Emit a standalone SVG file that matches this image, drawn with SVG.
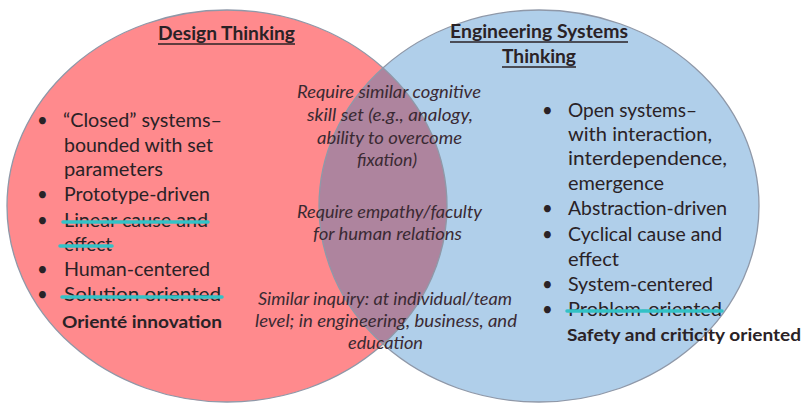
<svg xmlns="http://www.w3.org/2000/svg" width="803" height="403" viewBox="0 0 803 403">
<defs>
<style>
.t{font-family:Lato,"Liberation Sans",sans-serif;font-size:18.5px;fill:#2a2226}
.b{font-family:Lato,"Liberation Sans",sans-serif;font-size:17px;font-weight:bold;fill:#2a2226}
.h{font-family:Lato,"Liberation Sans",sans-serif;font-size:18.5px;font-weight:bold;fill:#2a2226}
.i{font-family:Lato,"Liberation Sans",sans-serif;font-size:17px;font-style:italic;fill:#3a2a33}
.ul{stroke:#2a2226;stroke-width:1.3}
.st{stroke:#33c2c6;stroke-width:3.5;stroke-linecap:round}
.edge{fill:none;stroke:#8f98a8;stroke-width:1.3}
</style>
<clipPath id="blueClip"><ellipse cx="539" cy="206" rx="220" ry="196"/></clipPath>
</defs>
<g id="design-thinking">
<ellipse cx="227" cy="206" rx="220" ry="196" fill="#ff8a8d"/>
</g>
<g id="engineering-systems-thinking">
<ellipse cx="539" cy="206" rx="220" ry="196" fill="#b0cfea"/>
</g>
<g id="overlap">
<ellipse cx="227" cy="206" rx="220" ry="196" fill="#ae849e" clip-path="url(#blueClip)"/>
</g>
<g id="edges">
<ellipse class="edge" cx="227" cy="206" rx="220" ry="196"/>
<ellipse class="edge" cx="539" cy="206" rx="220" ry="196"/>
</g>
<g id="design-thinking-text">
<text class="h" x="158" y="40" textLength="137" lengthAdjust="spacingAndGlyphs">Design Thinking</text>
<line class="ul" x1="158" y1="44" x2="295" y2="44"/>
<text class="t" x="37" y="127">•</text>
<text class="t" x="63" y="127" textLength="159" lengthAdjust="spacingAndGlyphs">“Closed” systems–</text>
<text class="t" x="64" y="152" textLength="149" lengthAdjust="spacingAndGlyphs">bounded with set</text>
<text class="t" x="64" y="176" textLength="99" lengthAdjust="spacingAndGlyphs">parameters</text>
<text class="t" x="37" y="201">•</text>
<text class="t" x="64" y="201" textLength="146" lengthAdjust="spacingAndGlyphs">Prototype-driven</text>
<text class="t" x="37" y="227">•</text>
<text class="t" x="64" y="227" textLength="144" lengthAdjust="spacingAndGlyphs">Linear cause and</text>
<line class="st" x1="63" y1="222" x2="208" y2="222"/>
<text class="t" x="64" y="251" textLength="48" lengthAdjust="spacingAndGlyphs">effect</text>
<line class="st" x1="60" y1="246" x2="112" y2="246"/>
<text class="t" x="37" y="276">•</text>
<text class="t" x="64" y="276" textLength="146" lengthAdjust="spacingAndGlyphs">Human-centered</text>
<text class="t" x="37" y="301">•</text>
<text class="t" x="64" y="301" textLength="157" lengthAdjust="spacingAndGlyphs">Solution oriented</text>
<line class="st" x1="62" y1="297" x2="222" y2="297"/>
<text class="b" x="62" y="328" textLength="160" lengthAdjust="spacingAndGlyphs">Orienté innovation</text>
</g>
<g id="engineering-systems-text">
<text class="h" x="450" y="38" textLength="178" lengthAdjust="spacingAndGlyphs">Engineering Systems</text>
<line class="ul" x1="450" y1="42" x2="628" y2="42"/>
<text class="h" x="502" y="63" textLength="74" lengthAdjust="spacingAndGlyphs">Thinking</text>
<line class="ul" x1="502" y1="67" x2="576" y2="67"/>
<text class="t" x="542" y="117">•</text>
<text class="t" x="568" y="117" textLength="129" lengthAdjust="spacingAndGlyphs">Open systems–</text>
<text class="t" x="568" y="141" textLength="144" lengthAdjust="spacingAndGlyphs">with interaction,</text>
<text class="t" x="568" y="165" textLength="159" lengthAdjust="spacingAndGlyphs">interdependence,</text>
<text class="t" x="568" y="190" textLength="96" lengthAdjust="spacingAndGlyphs">emergence</text>
<text class="t" x="542" y="215">•</text>
<text class="t" x="568" y="215" textLength="159" lengthAdjust="spacingAndGlyphs">Abstraction-driven</text>
<text class="t" x="542" y="241">•</text>
<text class="t" x="568" y="241" textLength="154" lengthAdjust="spacingAndGlyphs">Cyclical cause and</text>
<text class="t" x="568" y="266" textLength="51" lengthAdjust="spacingAndGlyphs">effect</text>
<text class="t" x="542" y="291">•</text>
<text class="t" x="568" y="291" textLength="145" lengthAdjust="spacingAndGlyphs">System-centered</text>
<text class="t" x="542" y="316">•</text>
<text class="t" x="568" y="316" textLength="154" lengthAdjust="spacingAndGlyphs">Problem-oriented</text>
<line class="st" x1="567" y1="311" x2="722" y2="311"/>
<text class="b" x="567" y="341" textLength="234" lengthAdjust="spacingAndGlyphs">Safety and criticity oriented</text>
</g>
<g id="shared-text">
<text class="i" x="297" y="98" textLength="184" lengthAdjust="spacingAndGlyphs">Require similar cognitive</text>
<text class="i" x="307" y="121" textLength="166" lengthAdjust="spacingAndGlyphs">skill set (e.g., analogy,</text>
<text class="i" x="317" y="144" textLength="145" lengthAdjust="spacingAndGlyphs">ability to overcome</text>
<text class="i" x="357" y="166" textLength="60" lengthAdjust="spacingAndGlyphs">fixation)</text>
<text class="i" x="297" y="218" textLength="185" lengthAdjust="spacingAndGlyphs">Require empathy/faculty</text>
<text class="i" x="313" y="240" textLength="149" lengthAdjust="spacingAndGlyphs">for human relations</text>
<text class="i" x="258" y="305" textLength="254" lengthAdjust="spacingAndGlyphs">Similar inquiry: at individual/team</text>
<text class="i" x="255" y="327" textLength="262" lengthAdjust="spacingAndGlyphs">level; in engineering, business, and</text>
<text class="i" x="348" y="349" textLength="75" lengthAdjust="spacingAndGlyphs">education</text>
</g>
</svg>
